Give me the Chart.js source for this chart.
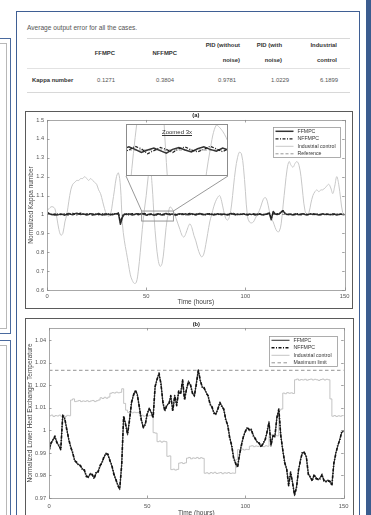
<!DOCTYPE html>
<html><head><meta charset="utf-8">
<script src="https://cdn.jsdelivr.net/npm/chart.js@4.4.0/dist/chart.umd.min.js"></script>
<style>
html,body{margin:0;padding:0;}
body{width:371px;height:515px;overflow:hidden;position:relative;background:#fff;font-family:"Liberation Sans",Arial,sans-serif;}
.abs{position:absolute;box-sizing:border-box;}
.t{position:absolute;white-space:nowrap;line-height:8px;height:8px;}
</style>
</head><body>
<!-- page decorations -->
<div class="abs" style="left:-3px;top:38px;width:14px;height:296px;border:1.5px solid #4a6a9e;"></div>
<div class="abs" style="left:-3px;top:43px;width:10px;height:286px;border:1px solid #b8b8b8;"></div>
<div class="abs" style="left:-3px;top:340px;width:14px;height:200px;border:1.5px solid #4a6a9e;"></div>
<div class="abs" style="left:-3px;top:345px;width:10px;height:200px;border:1px solid #b8b8b8;"></div>
<div class="abs" style="left:366px;top:0;width:5px;height:515px;background:#3b5c8f;"></div>
<div class="abs" id="panel" style="left:16px;top:11px;width:344px;height:530px;border:1.5px solid #3f5f94;background:#fff;"></div>

<!-- table -->
<div class="abs" style="left:27px;top:38px;width:323px;height:1px;background:#d8d8d8;"></div>
<div class="abs" style="left:27px;top:68px;width:323px;height:1px;background:#e2e2e2;"></div>
<div class="abs" style="left:27px;top:92px;width:323px;height:1px;background:#d8d8d8;"></div>
<div id="tableText"></div>

<!-- chart boxes -->
<div class="abs" style="left:25px;top:111px;width:328px;height:198px;border:1px solid #5a5a5a;background:#fff;"></div>
<div class="abs" style="left:25px;top:318px;width:329px;height:210px;border:1px solid #5a5a5a;background:#fff;"></div>
<canvas id="cA" width="326" height="196" style="position:absolute;left:26px;top:112px;width:326px;height:196px;"></canvas>
<canvas id="cB" width="327" height="199" style="position:absolute;left:26px;top:319px;width:327px;height:199px;"></canvas>
<div class="abs" id="insetBox" style="left:126px;top:124px;width:102px;height:52px;border:1px solid #8c8c8c;background:#fff;">
  <canvas id="cI" width="100" height="50" style="position:absolute;left:0;top:0;width:100px;height:50px;"></canvas>
  <div class="t" style="left:0;width:100px;top:3px;text-align:center;font-size:6px;color:#333;text-decoration:underline;">Zoomed 3x</div>
</div>

<script>
// ---------- DATA ----------
const tableCaption = "Average output error for all the cases.";
const tableHeaders = [["FFMPC"],["NFFMPC"],["PID (without","noise)"],["PID (with","noise)"],["Industrial","control"]];
const rowLabel = "Kappa number";
const kappaErrors = [0.1271, 0.3804, 0.9781, 1.0229, 6.1899];

const hours = Array.from({length:151},(_,i)=>i);
const xTickValues = [0, 50, 100, 150];
const yTicksA = [0.6,0.7,0.8,0.9,1.0,1.1,1.2,1.3,1.4,1.5];
const yTicksB = [0.97,0.98,0.99,1.0,1.01,1.02,1.03,1.04];
const referenceLevel = 1.0;
const maxLimit = 1.0267;
const zoomT = [47.7, 63.7];
const zoomY = [0.965, 1.018];
const insetY = [0.96, 1.04];

const ffmpcA = [
1.008,1.004,1.001,0.998,1.002,0.997,0.999,1.003,1.000,0.996,
1.002,1.005,1.001,0.998,1.004,1.006,1.002,0.999,1.003,1.001,
0.997,1.000,1.004,1.002,0.998,1.001,1.005,1.000,0.997,1.002,
1.003,0.999,1.001,0.998,1.002,1.004,1.006,0.948,0.985,1.002,
0.999,1.003,1.001,0.997,1.000,1.004,0.998,1.002,1.005,1.001,
0.996,1.000,1.003,0.999,0.995,1.001,1.004,1.000,0.997,1.002,
1.005,1.001,0.998,1.003,1.000,0.996,1.002,1.004,0.999,1.001,
1.003,0.998,1.000,1.004,1.001,0.997,1.002,1.005,1.000,0.998,
1.001,1.003,0.999,1.002,0.997,1.000,1.004,1.001,0.998,1.002,
1.000,0.997,1.003,1.005,1.001,0.998,1.002,0.999,1.001,1.004,
1.000,0.997,1.002,0.999,1.003,1.001,0.998,1.002,1.000,0.997,
1.001,1.004,1.008,0.972,1.016,1.002,0.999,1.003,1.012,1.018,
1.004,0.999,1.002,1.000,0.997,1.003,1.001,0.998,1.002,1.004,
1.000,0.997,1.001,1.003,0.999,1.002,1.000,0.997,1.001,1.003,
0.999,1.002,1.000,0.998,1.003,1.001,0.997,1.000,1.002,0.999,
0.998];
const nffmpcA = [
1.012,1.006,0.999,1.002,0.996,1.001,1.004,0.998,1.002,1.005,
0.999,0.996,1.003,1.006,1.000,0.997,1.004,1.007,1.001,0.998,
1.003,1.006,0.999,0.996,1.002,1.005,0.998,1.001,1.004,0.997,
0.999,1.004,0.997,1.002,1.005,0.999,1.008,0.958,0.992,0.998,
1.004,0.997,1.002,1.005,0.998,1.001,1.004,0.997,1.000,1.006,
1.002,0.994,0.999,1.004,1.001,0.996,1.002,1.005,1.000,0.997,
1.001,1.006,1.002,0.997,1.003,1.000,0.996,1.002,1.005,0.999,
0.997,1.003,1.006,1.000,0.997,1.002,1.004,0.999,1.003,1.001,
0.997,1.002,1.005,0.999,1.003,1.000,0.997,1.004,1.002,0.998,
1.003,1.001,0.998,1.002,1.006,0.999,0.997,1.003,1.000,0.998,
1.004,1.001,0.997,1.002,1.000,0.996,1.003,1.005,0.999,1.002,
0.998,1.002,1.010,0.978,1.012,0.999,1.004,1.001,1.015,1.020,
1.006,1.001,0.997,1.003,1.001,0.998,1.004,1.002,0.997,1.001,
1.004,1.001,0.998,1.002,1.005,0.999,1.003,1.001,0.997,1.002,
1.004,0.999,1.002,1.000,0.997,1.002,1.004,0.999,1.001,1.003,
0.999];
const industrialA = [
1.02,1.03,1.04,1.04,1.03,0.98,0.92,0.89,0.90,0.96,
1.00,1.07,1.13,1.16,1.17,1.18,1.18,1.19,1.19,1.20,
1.19,1.18,1.19,1.18,1.17,1.16,1.13,1.11,1.07,1.03,
1.00,0.99,1.00,1.06,1.13,1.20,1.22,1.15,0.95,0.86,
0.80,0.74,0.68,0.65,0.635,0.64,0.70,0.80,0.92,1.02,
1.10,1.20,1.25,1.15,0.98,0.85,0.76,0.725,0.74,0.82,
0.93,1.00,1.04,1.03,1.01,0.98,0.95,0.92,0.89,0.88,
0.90,0.93,0.95,0.93,0.89,0.86,0.82,0.79,0.775,0.79,
0.84,0.90,0.96,1.00,1.04,1.07,1.09,1.10,1.07,1.02,
0.98,0.97,0.99,1.05,1.15,1.24,1.30,1.33,1.32,1.25,
1.12,0.99,0.96,0.955,0.96,0.98,1.00,1.02,1.05,1.08,
1.09,1.07,1.02,0.98,0.96,0.93,0.91,0.91,0.95,1.05,
1.15,1.24,1.28,1.26,1.25,1.27,1.28,1.26,1.20,1.10,
1.02,1.00,1.01,1.06,1.10,1.12,1.13,1.12,1.13,1.13,
1.14,1.15,1.16,1.14,1.11,1.15,1.20,1.16,1.08,1.01,
1.00];

const ffmpcB = [
0.9905,0.9940,0.9960,0.9970,0.9950,0.9930,0.9920,1.0070,1.0050,1.0010,
0.9960,0.9930,0.9900,0.9870,0.9855,0.9850,0.9840,0.9830,0.9820,0.9800,
0.9790,0.9810,0.9800,0.9790,0.9810,0.9820,0.9840,0.9860,0.9880,0.9900,
0.9890,0.9870,0.9840,0.9810,0.9780,0.9760,0.9737,0.9850,1.0060,1.0030,
0.9980,1.0050,1.0120,1.0160,1.0175,1.0160,1.0100,1.0050,1.0010,1.0030,
1.0070,1.0100,1.0080,1.0060,1.0190,1.0230,1.0250,1.0210,1.0120,1.0090,
1.0110,1.0120,1.0150,1.0090,1.0150,1.0115,1.0170,1.0165,1.0220,1.0140,
1.0180,1.0220,1.0200,1.0170,1.0150,1.0210,1.0270,1.0220,1.0195,1.0185,
1.0170,1.0150,1.0120,1.0100,1.0080,1.0070,1.0100,1.0120,1.0110,1.0090,
1.0050,1.0020,0.9970,0.9930,0.9880,0.9850,0.9840,0.9890,0.9940,0.9970,
1.0000,1.0010,1.0005,1.0000,0.9980,0.9960,0.9950,0.9940,0.9930,0.9940,
0.9960,0.9990,1.0040,0.9930,0.9980,0.9970,1.0060,1.0090,0.9980,0.9910,
0.9860,0.9826,0.9760,0.9810,0.9770,0.9710,0.9750,0.9820,0.9870,0.9900,
0.9905,0.9880,0.9810,0.9790,0.9780,0.9800,0.9790,0.9780,0.9790,0.9800,
0.9780,0.9770,0.9780,0.9770,0.9760,0.9850,0.9900,0.9930,0.9960,0.9990,
1.0000];
const nffmpcB = [
0.9910,0.9945,0.9955,0.9975,0.9945,0.9935,0.9915,1.0065,1.0055,1.0005,
0.9965,0.9925,0.9905,0.9865,0.9860,0.9845,0.9845,0.9825,0.9825,0.9795,
0.9795,0.9805,0.9805,0.9785,0.9815,0.9815,0.9845,0.9855,0.9885,0.9895,
0.9895,0.9865,0.9845,0.9805,0.9785,0.9755,0.9742,0.9845,1.0065,1.0025,
0.9985,1.0045,1.0125,1.0155,1.0180,1.0155,1.0105,1.0045,1.0015,1.0025,
1.0075,1.0095,1.0085,1.0055,1.0195,1.0225,1.0255,1.0205,1.0125,1.0085,
1.0115,1.0115,1.0155,1.0085,1.0155,1.0110,1.0175,1.0160,1.0225,1.0135,
1.0185,1.0215,1.0205,1.0165,1.0155,1.0205,1.0265,1.0225,1.0190,1.0190,
1.0165,1.0155,1.0115,1.0105,1.0075,1.0075,1.0095,1.0125,1.0105,1.0095,
1.0045,1.0025,0.9965,0.9935,0.9875,0.9855,0.9835,0.9895,0.9935,0.9975,
0.9995,1.0015,1.0000,1.0005,0.9975,0.9965,0.9945,0.9945,0.9925,0.9945,
0.9955,0.9995,1.0035,0.9935,0.9975,0.9975,1.0055,1.0095,0.9975,0.9915,
0.9855,0.9830,0.9755,0.9815,0.9765,0.9715,0.9745,0.9825,0.9865,0.9905,
0.9900,0.9885,0.9805,0.9795,0.9775,0.9805,0.9785,0.9785,0.9785,0.9805,
0.9775,0.9775,0.9775,0.9775,0.9755,0.9855,0.9895,0.9935,0.9955,0.9995,
0.9995];
const industrialB = [
1.0065,1.0068,1.0062,1.0066,1.0064,1.0068,1.0063,1.0066,1.0062,1.0067,
1.0065,1.0135,1.0140,1.0128,1.0130,1.0133,1.0128,1.0131,1.0129,1.0132,
1.0128,1.0131,1.0133,1.0128,1.0132,1.0135,1.0145,1.0142,1.0147,1.0143,
1.0148,1.0165,1.0168,1.0166,1.0170,1.0167,1.0169,1.0185,1.0120,1.0090,
1.0080,1.0082,1.0078,1.0081,1.0079,1.0080,1.0065,1.0068,1.0063,1.0066,
1.0064,1.0067,1.0065,0.9990,0.9988,0.9950,0.9953,0.9948,0.9952,0.9950,
0.9885,0.9887,0.9826,0.9828,0.9824,0.9827,0.9855,0.9857,0.9853,0.9856,
0.9877,0.9880,0.9874,0.9878,0.9876,0.9880,0.9875,0.9879,0.9876,0.9810,
0.9812,0.9808,0.9813,0.9810,0.9814,0.9809,0.9811,0.9813,0.9808,0.9812,
0.9810,0.9813,0.9809,0.9811,0.9810,0.9870,0.9915,0.9912,0.9917,0.9913,
0.9916,0.9915,0.9930,0.9932,0.9928,0.9931,0.9929,0.9933,0.9930,0.9928,
0.9932,0.9930,0.9975,0.9980,0.9972,0.9978,0.9976,1.0090,1.0095,1.0166,
1.0163,1.0168,1.0165,1.0167,1.0164,1.0225,1.0228,1.0223,1.0226,1.0224,
1.0227,1.0223,1.0226,1.0228,1.0224,1.0227,1.0225,1.0222,1.0226,1.0228,
1.0224,1.0227,1.0225,1.0140,1.0063,1.0066,1.0062,1.0065,1.0063,1.0066,
1.0064];

// ---------- TABLE ----------
(function(){
  const host = document.getElementById('tableText');
  function put(txt, cx, cy, opt){
    const d = document.createElement('div');
    d.className = 't';
    d.textContent = txt;
    d.style.fontSize = (opt.size||5.9)+'px';
    d.style.color = opt.color||'#444';
    if(opt.bold) d.style.fontWeight='bold';
    d.style.top = (cy-4)+'px';
    if(opt.align==='left'){ d.style.left = cx+'px'; }
    else if(opt.align==='right'){ d.style.left=(cx-80)+'px'; d.style.width='80px'; d.style.textAlign='right'; }
    else { d.style.left=(cx-40)+'px'; d.style.width='80px'; d.style.textAlign='center'; }
    host.appendChild(d);
  }
  put(tableCaption, 27, 28, {align:'left', size:6.6, color:'#555'});
  const headRight = [115,177,240,282,337];
  tableHeaders.forEach((lines,i)=>{
    if(lines.length===1) put(lines[0], headRight[i], 53, {align:'right', bold:true, color:'#333'});
    else { put(lines[0], headRight[i], 45, {align:'right', bold:true, color:'#333'}); put(lines[1], headRight[i], 60, {align:'right', bold:true, color:'#333'}); }
  });
  put(rowLabel, 32, 80, {align:'left', bold:true, color:'#333'});
  const valCenter = [106,165,227,280,329];
  kappaErrors.forEach((v,i)=>put(v.toFixed(4), valCenter[i], 80, {color:'#555'}));
})();

// ---------- CHARTS ----------
Chart.defaults.font.family = "'Liberation Sans', Arial, sans-serif";
Chart.defaults.color = '#555';
const toXY = arr => arr.map((v,i)=>({x:hours[i], y:v}));
const flat = (v) => [{x:hours[0], y:v},{x:hours[hours.length-1], y:v}];
const fmt = v => String(+(+v).toFixed(3));

function line(ctx,x0,y0,x1,y1){ctx.beginPath();ctx.moveTo(x0,y0);ctx.lineTo(x1,y1);ctx.stroke();}

const framePlugin = {
  id:'frame',
  afterDraw(chart, args, o){
    const {ctx, chartArea:a, scales:{x,y}} = chart;
    ctx.save();
    ctx.strokeStyle = '#a8a8a8'; ctx.lineWidth = 1; ctx.setLineDash([]);
    ctx.strokeRect(Math.round(a.left)+0.5, Math.round(a.top)+0.5, Math.round(a.right-a.left), Math.round(a.bottom-a.top));
    ctx.strokeStyle = '#8a8a8a'; ctx.lineWidth = 0.8;
    y.ticks.forEach(t=>{const p=Math.round(y.getPixelForValue(t.value))+0.5; line(ctx,a.left,p,a.left+2.5,p); line(ctx,a.right,p,a.right-2.5,p);});
    x.ticks.forEach(t=>{const p=Math.round(x.getPixelForValue(t.value))+0.5; line(ctx,p,a.bottom,p,a.bottom-2.5); line(ctx,p,a.top,p,a.top+2.5);});
    if(o.zoom){
      const x0=x.getPixelForValue(zoomT[0]), x1=x.getPixelForValue(zoomT[1]);
      const y0=y.getPixelForValue(zoomY[1]), y1=y.getPixelForValue(zoomY[0]);
      ctx.strokeStyle='#8c8c8c'; ctx.lineWidth=0.9;
      ctx.strokeRect(x0,y0,x1-x0,y1-y0);
      const cr = chart.canvas.getBoundingClientRect();
      const ir = document.getElementById(o.zoom).getBoundingClientRect();
      line(ctx,x0,y0, ir.left-cr.left, ir.bottom-cr.top);
      line(ctx,x1,y0, ir.right-cr.left, ir.bottom-cr.top);
    }
    const L = o.legend;
    if(L){
      const bx = Math.round(a.right - L.right - L.width)+0.5, by = Math.round(a.top + L.top)+0.5;
      ctx.fillStyle='#fff'; ctx.fillRect(bx,by,L.width,L.height);
      ctx.strokeStyle='#9a9a9a'; ctx.lineWidth=0.8; ctx.strokeRect(bx,by,L.width,L.height);
      ctx.font = '5.2px '+Chart.defaults.font.family; ctx.textBaseline='middle'; ctx.textAlign='left';
      chart.data.datasets.forEach((ds,i)=>{
        const yy = by + L.first + i*L.row;
        ctx.setLineDash(ds.borderDash||[]); ctx.strokeStyle=ds.borderColor; ctx.lineWidth=ds.borderWidth;
        line(ctx,bx+2,yy,bx+2+L.sample,yy);
        ctx.setLineDash([]); ctx.fillStyle='#333';
        ctx.fillText(ds.label, bx+L.sample+6, yy);
      });
    }
    ctx.restore();
  }
};

function mainChart(id, c){
  return new Chart(document.getElementById(id), {
    type:'line',
    data:{datasets:c.datasets},
    options:{
      responsive:false, animation:false, devicePixelRatio:1,
      layout:{padding:{left:0,right:c.padRight,top:0,bottom:0}},
      elements:{point:{radius:0}, line:{borderJoinStyle:'round'}},
      plugins:{
        legend:{display:false}, tooltip:{enabled:false},
        title:{display:true, text:c.title, fullSize:false, color:'#222', font:{size:5.8, weight:'bold'}, padding:{top:c.titleTop, bottom:c.titleBottom}},
        frame:{legend:c.legend, zoom:c.zoom}
      },
      scales:{
        x:{type:'linear', min:0, max:150,
           afterBuildTicks:s=>{s.ticks = xTickValues.map(v=>({value:v}));},
           afterFit:s=>{s.height=c.xHeight;},
           grid:{display:false, drawTicks:false}, border:{display:false},
           ticks:{font:{size:5.8}, padding:c.xTickPad, maxRotation:0, autoSkip:false, callback:v=>fmt(v)},
           title:{display:true, text:'Time (hours)', color:'#444', font:{size:6.5}, padding:{top:0,bottom:c.xTitlePad}}},
        y:{type:'linear', min:c.ymin, max:c.ymax,
           afterBuildTicks:s=>{s.ticks = c.yTicks.map(v=>({value:v}));},
           afterFit:s=>{s.width=c.yWidth;},
           grid:{display:false, drawTicks:false}, border:{display:false},
           ticks:{font:{size:5.6}, padding:3, autoSkip:false, callback:v=>fmt(v)},
           title:{display:true, text:c.yTitle, color:'#444', font:{size:6.5}, padding:{top:c.yTitlePad,bottom:0}}}
      }
    },
    plugins:[framePlugin]
  });
}

function datasetsA(){
  return [
    {label:'FFMPC', data:toXY(ffmpcA), borderColor:'#333333', borderWidth:1.5, order:1},
    {label:'NFFMPC', data:toXY(nffmpcA), borderColor:'#1e1e1e', borderWidth:1.2, borderDash:[3,1.5,1,1.5], order:0},
    {label:'Industrial control', data:toXY(industrialA), borderColor:'#c8c8c8', borderWidth:1, tension:0.35, order:3},
    {label:'Reference', data:flat(referenceLevel), borderColor:'#8a8a8a', borderWidth:0.9, borderDash:[3,2], order:2}
  ];
}

mainChart('cA', {
  datasets:datasetsA(), title:'(a)', titleTop:0, titleBottom:1.0,
  padRight:5, xHeight:18, xTickPad:2.5, xTitlePad:2.2, yWidth:21, yTitlePad:1.2,
  ymin:0.6, ymax:1.5, yTicks:yTicksA, yTitle:'Normalized Kappa number',
  legend:{right:5, top:7, width:67, height:30, first:3.8, row:7.5, sample:18},
  zoom:'insetBox'
});

mainChart('cB', {
  datasets:[
    {label:'FFMPC', data:toXY(ffmpcB), borderColor:'#3a3a3a', borderWidth:1.1, order:1},
    {label:'NFFMPC', data:toXY(nffmpcB), borderColor:'#111111', borderWidth:1.6, borderDash:[3,1.5,1,1.5], order:0},
    {label:'Industrial control', data:toXY(industrialB), borderColor:'#bdbdbd', borderWidth:0.9, stepped:true, order:3},
    {label:'Maximum limit', data:flat(maxLimit), borderColor:'#888888', borderWidth:0.9, borderDash:[3.5,2.5], order:2}
  ],
  title:'(b)', titleTop:1.5, titleBottom:0.5,
  padRight:3, xHeight:20, xTickPad:4.5, xTitlePad:1.2, yWidth:23, yTitlePad:0,
  ymin:0.97, ymax:1.0455, yTicks:yTicksB, yTitle:'Normalized Lower Heat Exchanger Temperature',
  legend:{right:7, top:8, width:68, height:30, first:3.8, row:7.5, sample:18}
});

new Chart(document.getElementById('cI'), {
  type:'line',
  data:{datasets:datasetsA()},
  options:{
    responsive:false, animation:false, devicePixelRatio:1,
    layout:{padding:0},
    elements:{point:{radius:0}},
    plugins:{legend:{display:false}, tooltip:{enabled:false}, title:{display:false}},
    scales:{
      x:{type:'linear', display:false, min:zoomT[0], max:zoomT[1]},
      y:{type:'linear', display:false, min:insetY[0], max:insetY[1]}
    }
  }
});
</script>
</body></html>
